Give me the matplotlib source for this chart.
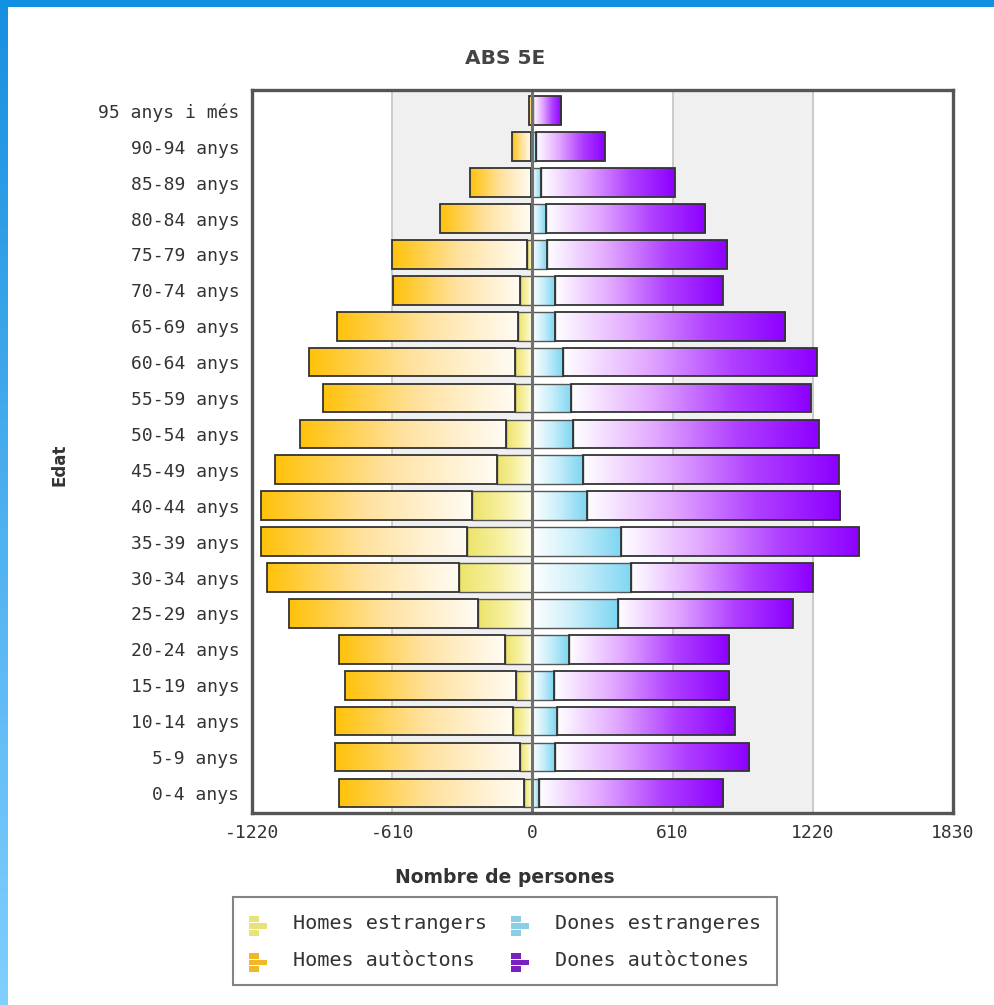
import numpy as np
import matplotlib
matplotlib.use("Agg")
import matplotlib.pyplot as plt
from matplotlib.colors import LinearSegmentedColormap
from matplotlib.patches import Rectangle, Patch
from matplotlib.legend_handler import HandlerBase

# ---------------- data (bottom to top) ----------------
ages = ["0-4 anys", "5-9 anys", "10-14 anys", "15-19 anys", "20-24 anys",
        "25-29 anys", "30-34 anys", "35-39 anys", "40-44 anys", "45-49 anys",
        "50-54 anys", "55-59 anys", "60-64 anys", "65-69 anys", "70-74 anys",
        "75-79 anys", "80-84 anys", "85-89 anys", "90-94 anys", "95 anys i més"]

homes_estrangers = [35, 52, 86, 70, 121, 235, 319, 283, 261, 154,
                    114, 77, 77, 61, 52, 23, 8, 5, 5, 0]
homes_autoctons = [808, 809, 775, 747, 721, 825, 837, 898, 920, 966,
                   895, 835, 897, 789, 555, 586, 394, 266, 84, 15]
dones_estrangeres = [28, 98, 108, 93, 159, 374, 431, 384, 236, 220,
                     176, 170, 134, 97, 100, 64, 57, 38, 17, 3]
dones_autoctones = [802, 846, 773, 763, 697, 759, 789, 1036, 1104, 1112,
                    1069, 1042, 1104, 1004, 730, 784, 694, 582, 299, 122]

xticks = [-1220, -610, 0, 610, 1220, 1830]
xticklabels = ["-1220", "-610", "0", "610", "1220", "1830"]

title = "ABS 5E"
xlabel = "Nombre de persones"
ylabel = "Edat"
legend_labels = ["Homes estrangers", "Homes autòctons",
                 "Dones estrangeres", "Dones autòctones"]

# ---------------- figure ----------------
W, H = 994, 1005
fig = plt.figure(figsize=(W / 100, H / 100), dpi=100)
fig.patch.set_facecolor("white")

# blue frame (top band and left gradient band)
fig.patches.append(Rectangle((0, 1 - 7 / H), 1, 7 / H, transform=fig.transFigure,
                             facecolor="#1090E0", edgecolor="none", zorder=0))
band_ax = fig.add_axes([0, 0, 8 / W, 1 - 7 / H])
band_cmap = LinearSegmentedColormap.from_list("band", ["#80CFFF", "#1890E0"])
band_ax.imshow(np.linspace(0, 1, 256).reshape(-1, 1), origin="lower", aspect="auto",
               cmap=band_cmap, extent=(0, 1, 0, 1))
band_ax.set_axis_off()

ax = fig.add_axes([252 / W, 1 - 813 / H, (953 - 252) / W, (813 - 90) / H])

# background bands and grid
ax.axvspan(-610, 0, color="#F0F0F0", zorder=0)
ax.axvspan(610, 1220, color="#F0F0F0", zorder=0)
for gx in (-610, 610, 1220):
    ax.axvline(gx, color="#C8C8C8", lw=1.3, zorder=0.5)

cm_h_aut = LinearSegmentedColormap.from_list("haut", ["#FFFCF5", "#FFE2A0", "#FFC20A"])
cm_h_est = LinearSegmentedColormap.from_list("hest", ["#FFFEF0", "#F7F0A0", "#EDE46A"])
cm_d_est = LinearSegmentedColormap.from_list("dest", ["#FFFFFF", "#C8EEFA", "#7DD6F2"])
cm_d_aut = LinearSegmentedColormap.from_list("daut", ["#FFFFFF", "#E2A8FF", "#B040FF", "#8C00FF"])

y = np.arange(len(ages))
bh = 0.8

he = -np.array(homes_estrangers)
ha = -np.array(homes_autoctons)
de = np.array(dones_estrangeres)
da = np.array(dones_autoctones)

bars_he = ax.barh(y, he, left=0, height=bh, facecolor="none", edgecolor="#555555", lw=1.0, zorder=3)
bars_ha = ax.barh(y, ha, left=he, height=bh, facecolor="none", edgecolor="#333333", lw=1.3, zorder=3)
bars_de = ax.barh(y, de, left=0, height=bh, facecolor="none", edgecolor="#555555", lw=1.0, zorder=3)
bars_da = ax.barh(y, da, left=de, height=bh, facecolor="none", edgecolor="#333333", lw=1.3, zorder=3)

grad = np.linspace(0, 1, 256).reshape(1, -1)


def fill_gradient(bars, cmap, outer_left):
    for b in bars:
        x0, y0 = b.get_x(), b.get_y()
        w, h = b.get_width(), b.get_height()
        xa, xb = sorted((x0, x0 + w))
        if xb - xa <= 0:
            continue
        data = grad[:, ::-1] if outer_left else grad
        im = ax.imshow(data, cmap=cmap, aspect="auto", interpolation="bilinear",
                       extent=(xa, xb, y0, y0 + h), origin="lower", zorder=2)
        im.set_clip_path(b)


fill_gradient(bars_he, cm_h_est, True)
fill_gradient(bars_ha, cm_h_aut, True)
fill_gradient(bars_de, cm_d_est, False)
fill_gradient(bars_da, cm_d_aut, False)

ax.axvline(0, color="#707070", lw=2.2, zorder=5)

ax.set_xlim(-1220, 1830)
ax.set_ylim(-0.56, len(ages) - 0.42)
ax.set_xticks(xticks)
ax.set_xticklabels(xticklabels)
ax.set_yticks(y)
ax.set_yticklabels(ages)
ax.tick_params(length=0, labelsize=13, labelcolor="#333333")
ax.tick_params(axis="x", pad=8)
ax.tick_params(axis="y", pad=9)
for lab in ax.get_xticklabels() + ax.get_yticklabels():
    lab.set_family("DejaVu Sans Mono")
for s in ax.spines.values():
    s.set_color("#555555")
    s.set_linewidth(2.4)
    s.set_zorder(6)

fig.text(505 / W, 1 - 58 / H, title, ha="center", va="center", fontsize=14.5,
         fontweight="bold", color="#444444")
fig.text(505 / W, 1 - 877 / H, xlabel, ha="center", va="center", fontsize=13.5,
         fontweight="bold", color="#333333")
fig.text(60 / W, 1 - 465 / H, ylabel, ha="center", va="center", rotation=90,
         fontsize=12, fontweight="bold", color="#333333")


# ---------------- legend ----------------
class BarIconHandler(HandlerBase):
    def create_artists(self, legend, orig_handle, xdescent, ydescent, width, height,
                       fontsize, trans):
        color = orig_handle.get_facecolor()
        arts = []
        n = 3
        bh_ = height / n * 0.85
        lens = [0.55, 1.0, 0.55]
        for i, ln in enumerate(lens):
            yy = -ydescent + (n - 1 - i) * height / n - height * 0.15
            r = Rectangle((-xdescent, yy), width * ln, bh_, facecolor=color,
                          edgecolor="none", transform=trans)
            arts.append(r)
        return arts


handle_colors = ["#E8E27A", "#F0B828", "#8ACFE4", "#7A1FC0"]
handles = [Patch(facecolor=c) for c in handle_colors]
leg = fig.legend(handles, legend_labels, ncol=2, loc="center",
                 bbox_to_anchor=(505 / W, 1 - 941 / H),
                 handler_map={h: BarIconHandler() for h in handles},
                 prop={"family": "DejaVu Sans Mono", "size": 14.5},
                 frameon=True, fancybox=False, edgecolor="#666666",
                 handlelength=0.9, handleheight=1.2, handletextpad=1.3,
                 columnspacing=1.2, labelspacing=0.75, borderpad=0.75,
                 borderaxespad=0)
for t in leg.get_texts():
    t.set_color("#333333")
leg.get_frame().set_linewidth(1.5)

fig.savefig("out.png", dpi=100)
